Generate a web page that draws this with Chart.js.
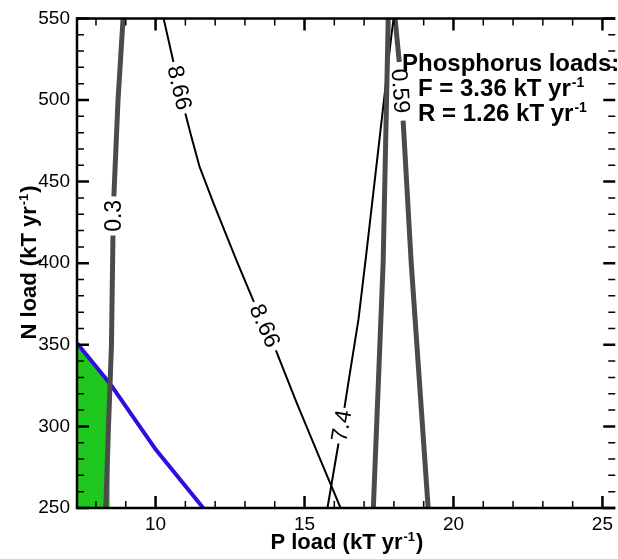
<!DOCTYPE html>
<html>
<head>
<meta charset="utf-8">
<script src="https://cdn.jsdelivr.net/npm/chart.js@4.4.1/dist/chart.umd.min.js"></script>
<style>
  html, body { margin: 0; padding: 0; background: #fff; }
  canvas { display: block; }
</style>
</head>
<body>
<canvas id="chart_loads" width="618" height="559"></canvas>
<script>
// axis ranges and tick labels
var xMin = 7.363, xMax = 25.43;
var yMin = 250, yMax = 550;
var xTicks = [10, 15, 20, 25];
var yTicks = [250, 300, 350, 400, 450, 500, 550];

// contour 0.3 (grey, left) - null = gap for the label
var p03 = [8.33, 8.42, 8.52, 8.57, null, 8.60, 8.74, 8.91];
var n03 = [250, 300, 350, 417, null, 441, 500, 550];

// contour 0.59 (grey, two branches)
var p059a = [17.31, 17.64, 17.81];
var n059a = [250, 400.6, 550];
var p059b = [19.15, 18.58, 18.31, null, 18.18, 18.04];
var n059b = [250, 400.6, 487.4, null, 523.3, 550];

// contour 8.66 (black)
var p866 = [10.27, 10.60, null, 11.00, 11.20, 11.47, 11.94, 12.74, 13.30, null, 14.04, 14.71, 15.47, 16.21];
var n866 = [550, 523.3, null, 491.7, 477.7, 459.5, 437.0, 400.6, 376.3, null, 346.6, 315.6, 282.2, 250];

// contour 7.4 (black)
var p74 = [15.77, 16.14, null, 16.34, 16.48, 16.81, 17.08, 17.91, 17.99];
var n74 = [250, 289.5, null, 311.3, 327.7, 365.4, 406.7, 538.5, 550];

// blue limit line
var pBlue = [7.363, 8.46, 10.02, 11.60];
var nBlue = [351, 326.5, 285.5, 250];

// green region (upper edge, filled down to the axis)
var pGreen = [7.363, 8.46, 8.42, 8.33, 8.46];
var nGreen = [351, 326.5, 300, 250, 250];

// contour labels
var labelText = ['0.3', '8.66', '8.66', '7.4', '0.59'];
var labelP = [8.58, 10.80, 13.67, 16.24, 18.22];
var labelN = [429, 507.5, 361.7, 300.4, 505.5];
var labelAngle = [-90, 77, 66, -80, 86];

var GREY = '#4b4b4b';
var FONT = "'Liberation Sans', Arial, Helvetica, sans-serif";
Chart.defaults.font.family = FONT;
Chart.defaults.color = '#000';

function toPoints(xs, ys) {
    return xs.map(function (x, i) { return {x: x, y: ys[i]}; });
}

function lineSet(label, xs, ys, color, width) {
    return {label: label, data: toPoints(xs, ys), showLine: true, fill: false,
            borderColor: color, borderWidth: width, pointRadius: 0, tension: 0,
            spanGaps: false, borderCapStyle: 'butt', borderJoinStyle: 'round'};
}

// superscript helper: draws base text then a raised "-1"
function supText(ctx, x, y, base, tail, size) {
    ctx.font = 'bold ' + size + 'px ' + FONT;
    ctx.fillText(base, x, y);
    var w = ctx.measureText(base).width;
    ctx.font = 'bold ' + Math.round(size * 0.6) + 'px ' + FONT;
    ctx.fillText('-1', x + w + 1, y - size * 0.38);
    var w2 = ctx.measureText('-1').width;
    ctx.font = 'bold ' + size + 'px ' + FONT;
    if (tail) ctx.fillText(tail, x + w + w2 + 2, y);
    return w + w2 + 2 + (tail ? ctx.measureText(tail).width : 0);
}

var decorations = {
    id: 'decorations',
    afterDatasetsDraw: function (chart) {
        var ctx = chart.ctx, a = chart.chartArea;
        var xs = chart.scales.x, ys = chart.scales.y;
        ctx.save();
        ctx.fillStyle = '#000';

        // phosphorus text block
        ctx.textAlign = 'left';
        ctx.textBaseline = 'alphabetic';
        ctx.font = 'bold 24px ' + FONT;
        ctx.fillText('Phosphorus loads:', a.left + 325, a.top + 53);
        supText(ctx, a.left + 341, a.top + 78, 'F = 3.36 kT yr', '', 24);
        supText(ctx, a.left + 341, a.top + 103, 'R = 1.26 kT yr', '', 24);

        // contour labels
        ctx.font = '23px ' + FONT;
        ctx.textAlign = 'center';
        ctx.textBaseline = 'middle';
        for (var i = 0; i < labelText.length; i++) {
            ctx.save();
            ctx.translate(xs.getPixelForValue(labelP[i]), ys.getPixelForValue(labelN[i]));
            ctx.rotate(labelAngle[i] * Math.PI / 180);
            ctx.fillText(labelText[i], 0, 1);
            ctx.restore();
        }

        // inward ticks on all four sides
        ctx.strokeStyle = '#000';
        for (var v = 8; v <= 25; v++) {
            var major = v % 5 === 0, len = major ? 12 : 7;
            var px = xs.getPixelForValue(v);
            ctx.lineWidth = major ? 2.5 : 1.5;
            ctx.beginPath();
            ctx.moveTo(px, a.bottom); ctx.lineTo(px, a.bottom - len);
            ctx.moveTo(px, a.top); ctx.lineTo(px, a.top + len);
            ctx.stroke();
        }
        for (var n = 250; n <= 550; n += 10) {
            var majorY = n % 50 === 0, lenY = majorY ? 12 : 7;
            var py = ys.getPixelForValue(n);
            ctx.lineWidth = majorY ? 2.5 : 1.5;
            ctx.beginPath();
            ctx.moveTo(a.left, py); ctx.lineTo(a.left + lenY, py);
            ctx.moveTo(a.right, py); ctx.lineTo(a.right - lenY, py);
            ctx.stroke();
        }

        // frame (right edge sits just outside the picture)
        ctx.lineWidth = 2.5;
        ctx.beginPath();
        ctx.moveTo(a.right, a.top); ctx.lineTo(a.left, a.top);
        ctx.lineTo(a.left, a.bottom); ctx.lineTo(a.right, a.bottom);
        ctx.stroke();

        // axis titles
        ctx.textBaseline = 'alphabetic';
        ctx.textAlign = 'left';
        ctx.font = 'bold 22px ' + FONT;
        var wx = ctx.measureText('P load (kT yr)').width + 12;
        supText(ctx, (a.left + a.right) / 2 - wx / 2, 549, 'P load (kT yr', ')', 22);
        ctx.save();
        ctx.translate(36, (a.top + a.bottom) / 2);
        ctx.rotate(-Math.PI / 2);
        ctx.font = 'bold 22px ' + FONT;
        var wy = ctx.measureText('N load (kT yr)').width + 12;
        supText(ctx, -wy / 2, 0, 'N load (kT yr', ')', 22);
        ctx.restore();

        ctx.restore();
    }
};

var ctx = document.getElementById('chart_loads').getContext('2d');
var chart = new Chart(ctx, {
    type: 'scatter',
    data: {
        datasets: [
            lineSet('0.3', p03, n03, GREY, 5),
            lineSet('0.59a', p059a, n059a, GREY, 5),
            lineSet('0.59b', p059b, n059b, GREY, 5),
            lineSet('7.4', p74, n74, '#000', 2),
            lineSet('8.66', p866, n866, '#000', 2),
            lineSet('limit', pBlue, nBlue, '#2a0fe0', 4),
            {label: 'region', data: toPoints(pGreen, nGreen), showLine: true, fill: 'start',
             backgroundColor: '#1fc81f', borderWidth: 0, pointRadius: 0, tension: 0}
        ]
    },
    options: {
        responsive: false,
        animation: false,
        devicePixelRatio: 1,
        layout: {padding: {top: 14, left: 0, right: 0, bottom: 0}},
        plugins: {legend: {display: false}, tooltip: {enabled: false}},
        scales: {
            x: {
                type: 'linear', min: xMin, max: xMax,
                afterBuildTicks: function (s) { s.ticks = xTicks.map(function (v) { return {value: v}; }); },
                afterFit: function (s) { s.height = 51; },
                ticks: {font: {size: 19}, padding: 5, maxRotation: 0, autoSkip: false},
                grid: {display: false, drawTicks: false},
                border: {display: false}
            },
            y: {
                type: 'linear', min: yMin, max: yMax,
                afterBuildTicks: function (s) { s.ticks = yTicks.map(function (v) { return {value: v}; }); },
                afterFit: function (s) { s.width = 77; },
                ticks: {font: {size: 19}, padding: 7, autoSkip: false},
                grid: {display: false, drawTicks: false},
                border: {display: false}
            }
        }
    },
    plugins: [decorations]
});
</script>
</body>
</html>
